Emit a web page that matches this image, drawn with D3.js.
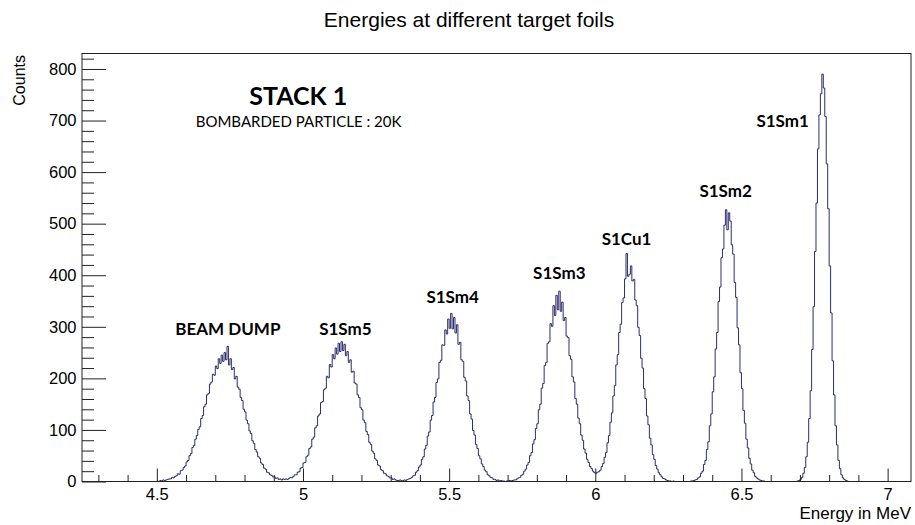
<!DOCTYPE html>
<html>
<head>
<meta charset="utf-8">
<script src="https://cdn.jsdelivr.net/npm/d3@7"></script>
<style>
  html, body { margin: 0; padding: 0; background: #fff; }
  svg { display: block; }
</style>
</head>
<body>
<svg id="chart" width="915" height="525"></svg>
<script>
// ---- Histogram data: counts per 0.005 MeV bin, one array per peak ----
const binWidth = 0.005;

const beamDumpStart = 4.500;
const beamDump = [1,0,2,1,3,2,3,4,5,5, 8,7,10,11,15,14,21,22,27,30,
  38,41,50,54,66,70,82,89,101,106, 122,128,145,150,168,171,189,193,208,206,
  224,219,238,229,245,233,250,236,262,226, 238,217,221,199,204,183,179,163,157,140,
  135,119,112,98,93,79,74,62,57,48, 45,36,33,26,24,18,17,13,12,9,
  9,6,7,4,5,3,5];

const s1sm5Start = 4.935;
const s1sm5 = [4,5,4,6,8,7,10,13,13,18, 19,26,27,36,37,48,51,64,67,82,
  86,104,108,127,131,153,155,178,181,204, 201,227,222,246,238,259,247,268,252,271,
  254,266,244,252,231,236,212,214,191,189, 168,163,143,139,119,114,97,91,76,72,
  59,55,44,41,32,30,23,21,16,15, 11,10,7,7,4,5,3,2];

const s1sm4Start = 5.325;
const s1sm4 = [2,3,2,2,3,2,4,5,6,8, 11,12,18,21,28,32,43,48,63,70,
  88,96,119,128,154,163,192,199,231,235, 265,264,294,286,315,297,326,296,318,288,
  304,266,270,236,233,202,195,166,157,131, 121,99,90,72,64,50,44,34,29,22,
  19,13,11,8,7,4,4,2,3,1, 2,1,1,0,1,1,2];

const s1sm3Start = 5.710;
const s1sm3 = [1,2,3,3,5,7,8,12,14,20, 24,32,37,50,56,73,81,103,112,139,
  150,181,190,225,231,268,271,306,301,341, 322,361,333,369,330,348,312,318,282,279,
  244,237,203,193,161,150,123,112,90,80, 63,55,43,37,29,25,20,17];

const s1cu1Start = 6.000;
const s1cu1 = [16,18,19,22,29,35,47,56,75,89, 115,133,166,186,226,246,289,305,347,356,
  393,442,398,402,418,389,392,352,341,299, 283,239,220,180,161,127,110,84,71,52,
  43,31,24,17,13,9,6,5,3,2, 1,1,0,1];

const s1sm2Start = 6.320;
const s1sm2 = [0,1,1,2,3,4,7,9,16,20, 33,41,62,77,108,131,174,203,257,289,
  349,377,434,451,497,527,488,521,505,459, 441,386,357,298,265,211,180,138,113,82,
  65,45,34,22,17,10,7,5,3,2, 1,1,0];

const s1sm1Start = 6.680;
const s1sm1 = [0,0,1,2,4,8,16,27,48,76, 122,176,256,339,446,540,645,711,752,790,
  763,708,616,529,418,327,234,168,108,71, 41,25,13,7,4,2,1,0,0];

// ---- Axis ticks and labels ----
const xMajorTicks = [4.5, 5, 5.5, 6, 6.5, 7];
const xTickLabels = ["4.5", "5", "5.5", "6", "6.5", "7"];
const yMajorTicks = [0, 100, 200, 300, 400, 500, 600, 700, 800];
const yTickLabels = ["0", "100", "200", "300", "400", "500", "600", "700", "800"];

// ---- Texts ----
const chartTitle = "Energies at different target foils";
const xTitle = "Energy in MeV";
const yTitle = "Counts";
const stackTitle = "STACK 1";
const stackNote = "BOMBARDED PARTICLE : 20K";
const peakNames = ["BEAM DUMP", "S1Sm5", "S1Sm4", "S1Sm3", "S1Cu1", "S1Sm2", "S1Sm1"];

// ---- Layout ----
const frame = { left: 82, right: 911, top: 53.5, bottom: 481.5 };
const xDomain = [4.244, 7.08];
const yDomain = [0, 830];

const svg = d3.select("#chart");
const x = d3.scaleLinear().domain(xDomain).range([frame.left, frame.right]);
const y = d3.scaleLinear().domain(yDomain).range([frame.bottom, frame.top]);

const axisFont = "'Liberation Sans', Arial, Helvetica, sans-serif";
const noteFont = "Lato, 'Open Sans', sans-serif";

// Assemble the histogram bins (index relative to 4.5 MeV)
const origin = 4.5;
const bins = new Map();
[[beamDumpStart, beamDump], [s1sm5Start, s1sm5], [s1sm4Start, s1sm4],
 [s1sm3Start, s1sm3], [s1cu1Start, s1cu1], [s1sm2Start, s1sm2], [s1sm1Start, s1sm1]]
  .forEach(([start, values]) => {
    const first = Math.round((start - origin) / binWidth);
    values.forEach((v, i) => bins.set(first + i, v));
  });

const iMin = Math.ceil((xDomain[0] - origin) / binWidth);
const iMax = Math.floor((xDomain[1] - origin) / binWidth) - 1;
const outline = [];
for (let i = iMin; i <= iMax; i++) {
  const c = bins.get(i) || 0;
  outline.push([origin + i * binWidth, c], [origin + (i + 1) * binWidth, c]);
}

svg.append("defs").append("clipPath").attr("id", "plot-clip")
  .append("rect")
  .attr("x", frame.left).attr("y", frame.top)
  .attr("width", frame.right - frame.left).attr("height", frame.bottom - frame.top);

// Histogram outline
const line = d3.line().x(d => x(d[0])).y(d => y(d[1]));
svg.append("path")
  .attr("d", line(outline))
  .attr("fill", "none")
  .attr("stroke", "#15155e")
  .attr("stroke-width", 0.9)
  .attr("stroke-linejoin", "miter")
  .attr("clip-path", "url(#plot-clip)");

// Frame
svg.append("rect")
  .attr("x", frame.left).attr("y", frame.top)
  .attr("width", frame.right - frame.left).attr("height", frame.bottom - frame.top)
  .attr("fill", "none").attr("stroke", "#222").attr("stroke-width", 1);

// X axis: minor ticks every 0.1, major every 0.5, all pointing inward
const xMinor = d3.range(43, 71).map(v => v / 10).filter(v => !xMajorTicks.some(m => Math.abs(m - v) < 1e-9));
svg.append("g").attr("transform", `translate(0,${frame.bottom})`)
  .call(d3.axisBottom(x).tickValues(xMinor).tickSize(-6.5).tickFormat(""))
  .call(g => g.select(".domain").remove());
const gx = svg.append("g").attr("transform", `translate(0,${frame.bottom})`)
  .call(d3.axisBottom(x).tickValues(xMajorTicks).tickSize(-13).tickPadding(7)
    .tickFormat((d, i) => xTickLabels[i]))
  .call(g => g.select(".domain").remove());
gx.selectAll("text").attr("font-family", axisFont).attr("font-size", 16.5).attr("fill", "#000");

// Y axis: minor ticks every 20, major every 100
const yMinor = d3.range(20, 830, 20).filter(v => v % 100 !== 0);
svg.append("g").attr("transform", `translate(${frame.left},0)`)
  .call(d3.axisLeft(y).tickValues(yMinor).tickSize(-12).tickFormat(""))
  .call(g => g.select(".domain").remove());
const gy = svg.append("g").attr("transform", `translate(${frame.left},0)`)
  .call(d3.axisLeft(y).tickValues(yMajorTicks).tickSize(-24).tickPadding(5.5)
    .tickFormat((d, i) => yTickLabels[i]))
  .call(g => g.select(".domain").remove());
gy.selectAll("text").attr("font-family", axisFont).attr("font-size", 16.5).attr("fill", "#000");

svg.selectAll(".tick line").attr("stroke", "#222").attr("stroke-width", 1);

// Titles
svg.append("text").attr("x", 469).attr("y", 27)
  .attr("text-anchor", "middle").attr("font-family", axisFont).attr("font-size", 21)
  .attr("fill", "#000").text(chartTitle);
svg.append("text").attr("x", frame.right).attr("y", 519)
  .attr("text-anchor", "end").attr("font-family", axisFont).attr("font-size", 17)
  .attr("fill", "#000").text(xTitle);
svg.append("text").attr("transform", `translate(25,${frame.top + 1.5}) rotate(-90)`)
  .attr("text-anchor", "end").attr("font-family", axisFont).attr("font-size", 16)
  .attr("fill", "#000").text(yTitle);

// Annotations placed in data coordinates
svg.append("text").attr("x", x(4.984)).attr("y", y(730))
  .attr("text-anchor", "middle").attr("font-family", noteFont).attr("font-weight", 700)
  .attr("font-size", 25).attr("fill", "#000").text(stackTitle);
svg.append("text").attr("x", x(4.985)).attr("y", y(687))
  .attr("text-anchor", "middle").attr("font-family", noteFont).attr("font-weight", 400)
  .attr("font-size", 15).attr("fill", "#000").text(stackNote);

const peakLabelAt = [[4.743, 284], [5.145, 284], [5.512, 346], [5.877, 393],
                     [6.107, 459], [6.446, 552], [6.641, 687]];
svg.append("g").selectAll("text").data(peakNames).join("text")
  .attr("x", (d, i) => x(peakLabelAt[i][0]))
  .attr("y", (d, i) => y(peakLabelAt[i][1]))
  .attr("text-anchor", "middle").attr("font-family", noteFont).attr("font-weight", 700)
  .attr("font-size", 17).attr("fill", "#000").text(d => d);
</script>
</body>
</html>
